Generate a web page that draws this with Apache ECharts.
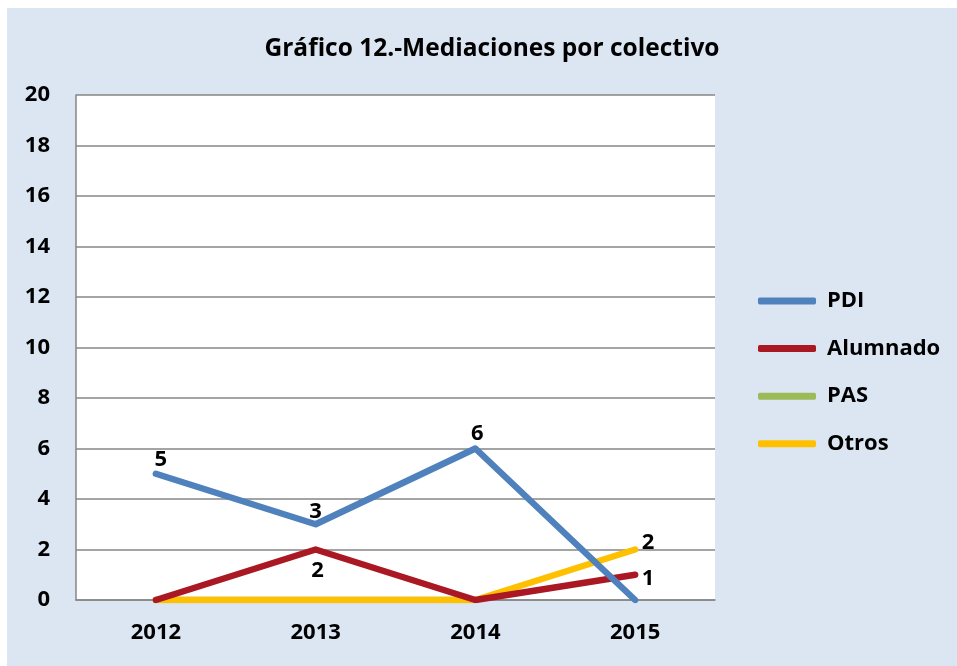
<!DOCTYPE html>
<html><head><meta charset="utf-8">
<script src="https://cdn.jsdelivr.net/npm/echarts@6/dist/echarts.min.js"></script>
<style>html,body{margin:0;padding:0;background:#fff}#c{width:957px;height:666px}</style>
</head><body><div id="c"></div>
<script>
const categories = ['2012','2013','2014','2015'];
const seriesNames = ['PDI','Alumnado','PAS','Otros'];
const pdi = [5,3,6,0];
const alumnado = [0,2,0,1];
const pas = [0,0,0,null];
const otros = [0,0,0,2];
const yTicks = [0,2,4,6,8,10,12,14,16,18,20];

const colors = ['#4f81bd','#aa1923','#9bbb59','#ffc000'];
const labelPos = {
  PDI: [['top',3,[5,0]],['top',3,[0,2]],['top',3,[2,0]],['top',3,[0,0]]],
  Alumnado: [['bottom',3,[0,0]],['bottom',10,[2,0]],['bottom',3,[0,0]],['right',6,[0,4]]],
  PAS: [['top',3,[0,0]],['top',3,[0,0]],['top',3,[0,0]],['top',3,[0,0]]],
  Otros: [['right',3,[0,0]],['right',3,[0,0]],['right',3,[0,0]],['right',6,[0,-7]]]
};
const font = '"Open Sans", "Liberation Sans", sans-serif';
const zs = [5, 4, 2, 3];
function mk(name, vals, i){
  return {
    name, type:'line',
    data: vals.map((v,k)=>{ const lp = labelPos[name][k]; return {value:v, label:{position:lp[0], distance:lp[1], offset:lp[2]}}; }),
    symbol:'circle', symbolSize:1, showSymbol:true,
    lineStyle:{width:6.5, color:colors[i], cap:'round', join:'round'},
    itemStyle:{color:colors[i]},
    z: zs[i],
    label:{show:true, color:'#000', fontWeight:'bold', fontSize:22, fontFamily:font,
      formatter: p => (p.value===0 || p.value==null) ? '' : String(p.value)},
    emphasis:{disabled:true}, animation:false
  };
}
const chart = echarts.init(document.getElementById('c'));
chart.setOption({
  animation:false,
  backgroundColor:'#ffffff',
  graphic:[{type:'rect', shape:{x:7,y:8,width:950,height:658}, style:{fill:'#dce6f2'}, z:-10, silent:true}],
  title:{text:'Gráfico 12.-Mediaciones por colectivo', left:487, top:32, textAlign:'center',
    textStyle:{fontSize:24.5, fontWeight:'bold', color:'#000', fontFamily:font}},
  grid:{left:76, top:95, width:639, height:505, show:true, backgroundColor:'#ffffff', borderWidth:0, containLabel:false},
  legend:{orient:'vertical', left:753, top:285, itemGap:25.6, itemWidth:58, itemHeight:7,
    data: seriesNames.map(n=>({name:n, icon:'roundRect'})),
    textStyle:{fontSize:22, fontWeight:'bold', color:'#000', fontFamily:font, padding:[0,0,0,6]}},
  xAxis:{type:'category', data:categories, boundaryGap:true,
    axisLine:{lineStyle:{color:'#868686', width:1.5}}, axisTick:{show:false},
    axisLabel:{fontSize:22, fontWeight:'bold', color:'#000', fontFamily:font, margin:22}},
  yAxis:{type:'value', min:yTicks[0], max:yTicks[yTicks.length-1], interval:2,
    axisLine:{show:true, lineStyle:{color:'#868686', width:1.5}}, axisTick:{show:false},
    splitLine:{lineStyle:{color:'#868686', width:1.5}},
    axisLabel:{fontSize:22, fontWeight:'bold', color:'#000', fontFamily:font, margin:26}},
  series:[mk('PDI',pdi,0), mk('Alumnado',alumnado,1), mk('PAS',pas,2), mk('Otros',otros,3)]
});
</script></body></html>
